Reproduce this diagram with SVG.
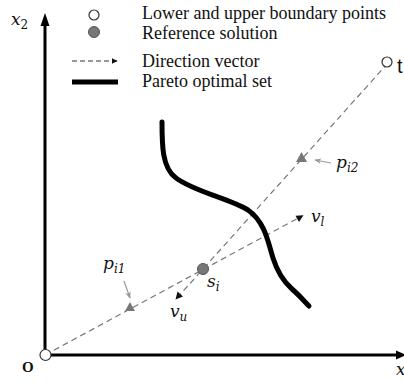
<svg xmlns="http://www.w3.org/2000/svg" width="404" height="382" viewBox="0 0 404 382">
<style>
.leg{font-family:"Liberation Serif",serif;font-size:18px;fill:#111}
.math{font-family:"DejaVu Serif",serif;font-style:italic;font-size:17px;fill:#111}
.sub{font-size:12px}
.dash{stroke:#777;stroke-width:1.2;stroke-dasharray:6 4;fill:none}
.axis{stroke:#000;stroke-width:3;fill:none}
.tri{fill:#777}
.ptr{stroke:#999;stroke-width:1.2;fill:none}
</style>
<defs>
<marker id="ah" viewBox="0 0 10 10" refX="9" refY="5" markerWidth="6" markerHeight="6" orient="auto" markerUnits="userSpaceOnUse"><path d="M0,0 L10,5 L0,10 z" fill="#111"/></marker>
<marker id="ag" viewBox="0 0 10 10" refX="9" refY="5" markerWidth="7" markerHeight="7" orient="auto" markerUnits="userSpaceOnUse"><path d="M0,1 L10,5 L0,9 L3,5 z" fill="#999"/></marker>
</defs>
<g id="axes">
<line class="axis" x1="45" y1="355" x2="45" y2="24"/>
<path d="M40.5,26 L45,13 L49.5,26 z" fill="#000"/>
<line class="axis" x1="45" y1="355" x2="398" y2="355"/>
<path d="M396,350.5 L406,355 L396,359.5 z" fill="#000"/>
<text class="math" x="11" y="25" font-size="19">x<tspan class="sub" dy="4" font-style="normal" font-size="13">2</tspan></text>
<text x="396" y="375" class="math">x</text>
<text x="22" y="372" font-family="Liberation Serif,serif" font-size="15" font-weight="bold" fill="#111">O</text>
</g>
<g id="legend">
<circle cx="94" cy="15" r="5" fill="#fff" stroke="#333" stroke-width="1.2"/>
<circle cx="94" cy="32" r="5.5" fill="#777" stroke="#555" stroke-width="1"/>
<line x1="72" y1="61" x2="117" y2="61" stroke="#333" stroke-width="1.2" stroke-dasharray="5 3" marker-end="url(#ah)"/>
<line x1="72" y1="82" x2="118" y2="82" stroke="#000" stroke-width="5"/>
<text class="leg" x="142" y="19">Lower and upper boundary points</text>
<text class="leg" x="142" y="39">Reference solution</text>
<text class="leg" x="142" y="67">Direction vector</text>
<text class="leg" x="142" y="87">Pareto optimal set</text>
</g>
<g id="connectors">
<line class="dash" x1="45" y1="355" x2="302" y2="216"/>
<path d="M303.5,215.2 L295.5,215.8 L299,222 z" fill="#111"/>
<line class="dash" x1="388" y1="63" x2="177" y2="298"/>
<path d="M175.5,299.5 L177.5,291.5 L183,296.5 z" fill="#111"/>
<line class="ptr" x1="331" y1="163" x2="315" y2="160" marker-end="url(#ag)"/>
<line class="ptr" x1="124" y1="281" x2="130" y2="298" marker-end="url(#ag)"/>
</g>
<g id="pareto">
<path d="M162,122 C162,145 162,168 176,178 C195,192 228,198 248,210 C265,222 268,242 273,258 C278,274 284,282 292,289 C300,296 305,302 309,306" fill="none" stroke="#000" stroke-width="5" stroke-linecap="round"/>
</g>
<g id="origin">
<circle cx="45.5" cy="355" r="5.5" fill="#fff" stroke="#333" stroke-width="1.2"/>
</g>
<g id="upper">
<circle cx="387" cy="62" r="5" fill="#fff" stroke="#333" stroke-width="1.2"/>
<text x="397" y="73" font-family="Liberation Sans,sans-serif" font-size="20" fill="#111">t</text>
</g>
<g id="si">
<circle cx="203" cy="269" r="5.5" fill="#777" stroke="#555" stroke-width="1"/>
<text class="math" x="207" y="287">s<tspan class="sub" dy="4">i</tspan></text>
</g>
<g id="pi1">
<path class="tri" d="M125,311 L135,311 L130,302 z"/>
<text class="math" x="103" y="269">p<tspan class="sub" dy="4">i1</tspan></text>
</g>
<g id="pi2">
<path class="tri" d="M296,162 L307,162 L301.5,152 z"/>
<text class="math" x="336" y="168">p<tspan class="sub" dy="4">i2</tspan></text>
</g>
<g id="vl">
<text class="math" x="311" y="222">v<tspan class="sub" dy="4">l</tspan></text>
</g>
<g id="vu">
<text class="math" x="170" y="317">v<tspan class="sub" dy="4">u</tspan></text>
</g>
</svg>
